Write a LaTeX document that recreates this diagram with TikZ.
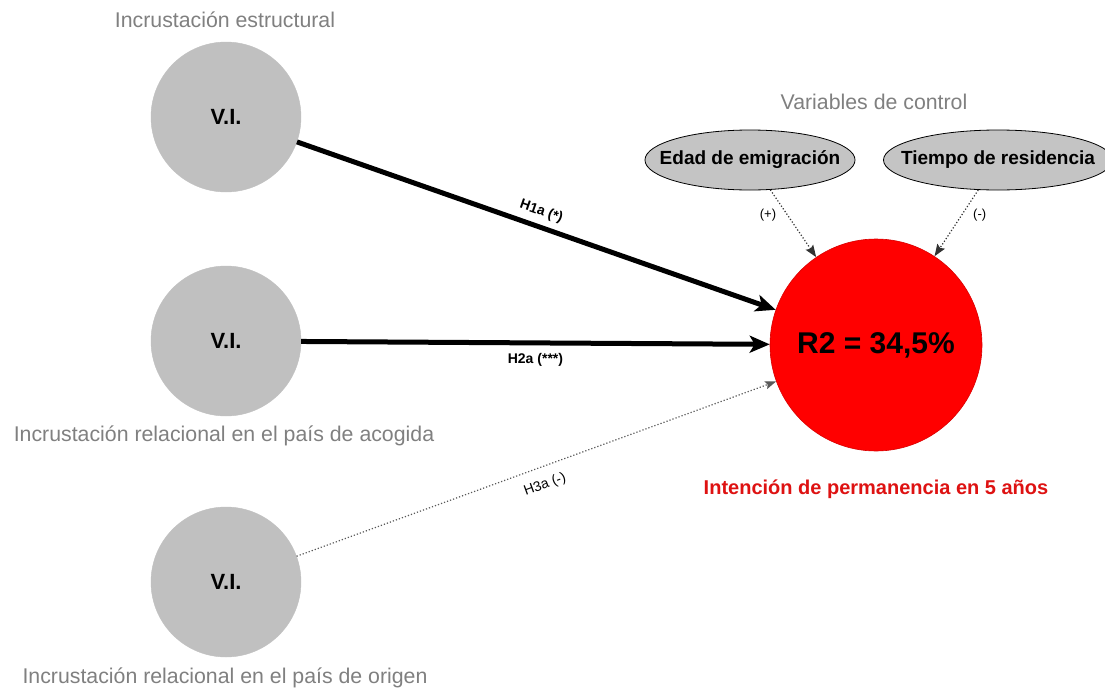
\documentclass[tikz,border=0pt]{standalone}
\usepackage{fontspec}
\setmainfont{Liberation Sans}
\usetikzlibrary{shapes.geometric,arrows.meta}
\definecolor{vigray}{RGB}{192,192,192}
\definecolor{labgray}{RGB}{128,128,128}
\definecolor{dvred}{RGB}{255,0,0}
\definecolor{txtred}{RGB}{222,18,18}
\definecolor{ellgray}{RGB}{196,196,196}
\begin{document}
\begin{tikzpicture}[x=1pt,y=-1pt,
  vinode/.style={circle,fill=vigray,draw=vigray,minimum size=150pt,inner sep=0pt,
    font=\fontsize{22}{26}\selectfont\bfseries},
  dvnode/.style={circle,fill=dvred,draw=dvred!85!black,line width=0.6pt,minimum size=212pt,inner sep=0pt,
    font=\fontsize{30}{34}\selectfont\bfseries},
  ctrlnode/.style={ellipse,fill=ellgray,draw=black,line width=0.8pt,minimum width=210pt,minimum height=60pt,
    inner xsep=-16pt,inner ysep=0pt,
    font=\fontsize{19}{22}\selectfont\bfseries},
  graylab/.style={text=labgray,font=\fontsize{21.3}{25}\selectfont},
  redlab/.style={text=txtred,font=\fontsize{20}{24}\selectfont\bfseries},
  strong/.style={line width=5pt,-{Stealth[length=20pt,width=17pt,inset=5pt]}},
  weak/.style={dotted,line width=1.2pt,draw=black!65,-{Stealth[length=11pt,width=8pt,inset=2pt]}},
  ctrl/.style={dotted,line width=1.2pt,draw=black!80,-{Stealth[length=12pt,width=9pt,inset=2pt]}},
  hlab/.style={font=\fontsize{14}{16}\selectfont\bfseries,inner sep=2pt},
  hlabr/.style={font=\fontsize{14}{16}\selectfont,inner sep=2pt},
  slab/.style={font=\fontsize{13}{15}\selectfont,inner sep=2pt}
]
\useasboundingbox (0,0) rectangle (1105,688);
\fill[white] (0,0) rectangle (1105,688);

% independent variables
\node[vinode] (v1) at (226,117) {V.I.};
\node[vinode] (v2) at (226,341) {V.I.};
\node[vinode] (v3) at (226,582) {V.I.};

\node[graylab] (l1) at (225,20) {Incrustación estructural};
\node[graylab] (l2) at (224,436) {Incrustación relacional en el país de acogida};
\node[graylab] (l3) at (225,678) {Incrustación relacional en el país de origen};

% dependent variable
\node[dvnode] (dv) at (876,345) {R2 = 34,5\%};
\node[redlab] (ldv) at (876,489) {Intención de permanencia en 5 años};

% controls
\node[graylab] (lc) at (874,102) {Variables de control};
\node[ctrlnode] (c1) at (750,160) {Edad de emigración};
\node[ctrlnode] (c2) at (998,160) {Tiempo de residencia};

% connectors
\draw[strong] (v1) -- node[pos=0.5,sloped,above=4pt,hlab] {H1a (*)} (dv);
\draw[strong] (v2) -- node[pos=0.5,below=6pt,hlab] {H2a (***)} (dv);
\draw[weak] (v3) -- node[pos=0.505,sloped,below=9pt,hlabr] {H3a (-)} (dv);

\draw[ctrl] (c1) -- node[pos=0.38,left=9pt,slab] {(+)} (dv);
\draw[ctrl] (c2) -- node[pos=0.38,right=9pt,slab] {(-)} (dv);
\end{tikzpicture}
\end{document}
